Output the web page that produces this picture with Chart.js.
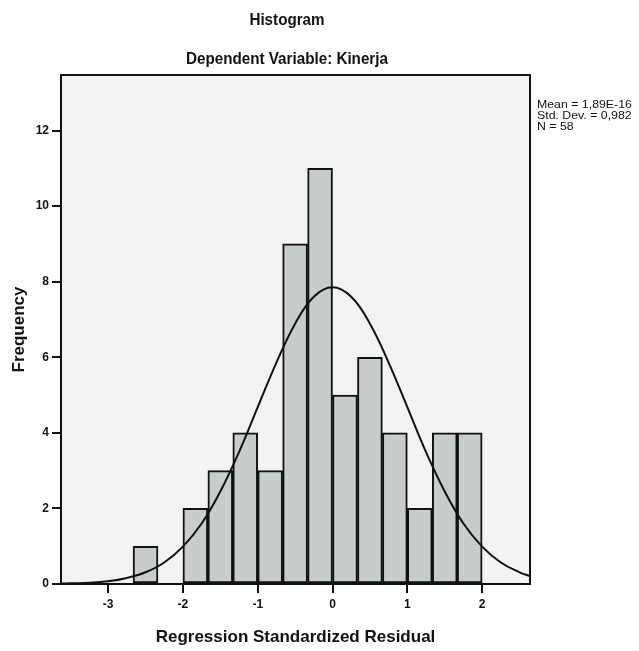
<!DOCTYPE html>
<html>
<head>
<meta charset="utf-8">
<script src="https://cdn.jsdelivr.net/npm/chart.js@4/dist/chart.umd.min.js"></script>
<style>
html,body{margin:0;padding:0;background:#ffffff;}
#wrap{width:639px;height:651px;position:relative;}
</style>
</head>
<body>
<div id="wrap"><canvas id="c" width="639" height="651"></canvas></div>
<script>
// ---- data ----
const titleText = "Histogram";
const subtitleText = "Dependent Variable: Kinerja";
const xAxisTitle = "Regression Standardized Residual";
const yAxisTitle = "Frequency";
const statsLines = ["Mean = 1,89E-16", "Std. Dev. = 0,982", "N = 58"];

// histogram bins (lower edge, upper edge) and frequencies
const binLower = [-2.667, -2.333, -2.0, -1.667, -1.333, -1.0, -0.667, -0.333, 0.0, 0.333, 0.667, 1.0, 1.333, 1.667];
const binUpper = [-2.333, -2.0, -1.667, -1.333, -1.0, -0.667, -0.333, 0.0, 0.333, 0.667, 1.0, 1.333, 1.667, 2.0];
const frequencies = [1, 0, 2, 3, 4, 3, 9, 11, 5, 6, 4, 2, 4, 4];

// normal curve
const curveX = [-3.63, -3.5, -3.25, -3.0, -2.75, -2.5, -2.25, -2.0, -1.75, -1.5, -1.25, -1.0, -0.75, -0.5, -0.25, 0.0, 0.25, 0.5, 0.75, 1.0, 1.25, 1.5, 1.75, 2.0, 2.25, 2.5, 2.64];
const curveY = [0.01, 0.02, 0.03, 0.07, 0.16, 0.31, 0.57, 0.99, 1.60, 2.45, 3.49, 4.68, 5.86, 6.89, 7.60, 7.85, 7.60, 6.89, 5.86, 4.68, 3.49, 2.45, 1.60, 0.99, 0.57, 0.31, 0.21];

const xTickValues = [-3, -2, -1, 0, 1, 2];
const yTickValues = [0, 2, 4, 6, 8, 10, 12];
const xRange = [-3.63, 2.64];
const yRange = [0, 13.47];

// ---- chart ----
const barData = binLower.map((lo, i) => ({x: (lo + binUpper[i]) / 2, y: frequencies[i]}));
const lineData = curveX.map((x, i) => ({x: x, y: curveY[i]}));

const FONT = "'Liberation Sans', Arial, sans-serif";

const decor = {
  id: 'decor',
  beforeDraw(chart) {
    const {ctx, chartArea: a} = chart;
    ctx.save();
    ctx.fillStyle = '#f3f3f2';
    ctx.fillRect(a.left, a.top, a.right - a.left, a.bottom - a.top);
    ctx.restore();
  },
  afterDraw(chart) {
    const {ctx, chartArea: a} = chart;
    ctx.save();
    ctx.strokeStyle = '#111';
    ctx.lineWidth = 2;
    ctx.strokeRect(a.left, a.top, a.right - a.left, a.bottom - a.top);
    ctx.fillStyle = '#111';
    ctx.textAlign = 'center';
    ctx.textBaseline = 'middle';
    ctx.font = "bold 16px " + FONT;
    [[titleText, 21], [subtitleText, 60]].forEach(([t, y]) => {
      ctx.save();
      ctx.translate(287, y);
      ctx.scale(0.95, 1);
      ctx.fillText(t, 0, 0);
      ctx.restore();
    });
    ctx.textAlign = 'left';
    ctx.font = "11px " + FONT;
    statsLines.forEach((t, i) => {
      ctx.save();
      ctx.translate(537, 105 + i * 11);
      ctx.scale(1.12, 1);
      ctx.fillText(t, 0, 0);
      ctx.restore();
    });
    ctx.restore();
  }
};

new Chart(document.getElementById('c'), {
  data: {
    datasets: [
      {
        type: 'line',
        data: lineData,
        borderColor: '#111',
        borderWidth: 2,
        pointRadius: 0,
        tension: 0.4,
        fill: false,
        order: 0
      },
      {
        type: 'bar',
        data: barData,
        backgroundColor: '#c8cdc9',
        borderColor: '#111',
        borderWidth: 2,
        borderSkipped: false,
        barPercentage: 1,
        categoryPercentage: 1,
        order: 1
      }
    ]
  },
  options: {
    responsive: false,
    animation: false,
    layout: {padding: {left: 0, right: 109, top: 75, bottom: 0}},
    plugins: {legend: {display: false}, tooltip: {enabled: false}, title: {display: false}},
    scales: {
      x: {
        type: 'linear',
        offset: false,
        min: xRange[0],
        max: xRange[1],
        afterBuildTicks(s) { s.ticks = xTickValues.map(v => ({value: v})); },
        afterFit(s) { s.height = 651 - 584; },
        grid: {offset: false, drawOnChartArea: false, drawTicks: true, tickLength: 9, color: '#111', lineWidth: 2},
        border: {display: true, color: '#111', width: 2},
        ticks: {color: '#111', font: {family: FONT, size: 12, weight: 'bold'}, padding: 4, maxRotation: 0},
        title: {display: true, text: xAxisTitle, color: '#111', font: {family: FONT, size: 17, weight: 'bold'}, padding: {top: 0, bottom: 3}}
      },
      y: {
        type: 'linear',
        min: yRange[0],
        max: yRange[1],
        afterBuildTicks(s) { s.ticks = yTickValues.map(v => ({value: v})); },
        afterFit(s) { s.width = 61; },
        grid: {drawOnChartArea: false, drawTicks: true, tickLength: 9, color: '#111', lineWidth: 2},
        border: {display: true, color: '#111', width: 2},
        ticks: {color: '#111', font: {family: FONT, size: 12, weight: 'bold'}, padding: 3},
        title: {display: true, text: yAxisTitle, color: '#111', font: {family: FONT, size: 17, weight: 'bold'}, padding: {top: 9, bottom: 0}}
      }
    }
  },
  plugins: [decor]
});
</script>
</body>
</html>
